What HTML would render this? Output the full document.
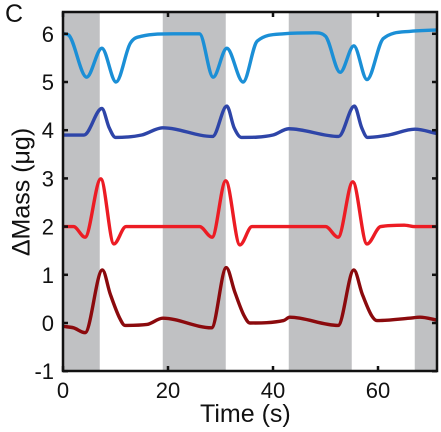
<!DOCTYPE html>
<html><head><meta charset="utf-8"><style>
body{margin:0;background:#fff;}
svg{display:block;font-family:"Liberation Sans",Arial,sans-serif;}
</style></head><body>
<svg id="chart" width="441" height="432">
<g id="bands"></g><g id="lines"></g><g id="axes"></g>
</svg>
<script>
const xTicks=[0,20,40,60];
const yTicks=[-1,0,1,2,3,4,5,6];
const bandStarts=[0,19,43,67];
const bandEnds=[7,31,55,71.3];
const cyanT=[0,1,4.5,7.4,10.1,12.8,15,21,26,28.6,31.2,34.3,37,42,48,50,52.8,55.4,57.9,61,66,71.3];
const cyanV=[6.0,5.98,5.1,5.7,5.0,5.8,5.95,6.0,6.0,5.1,5.7,5.0,5.85,6.0,6.02,5.95,5.2,5.75,5.05,5.9,6.05,6.08];
const blueT=[0,4,7.4,8.8,10,15,19,28.5,31.2,32.6,34,40,43,52.5,55.5,56.9,58,62,67,71.3];
const blueV=[3.9,3.9,4.45,4.05,3.85,3.9,4.05,3.87,4.5,4.05,3.85,3.9,4.03,3.87,4.5,4.05,3.85,3.9,4.02,3.93];
const redT=[0,2,4.2,7.2,9.7,12,26,28.4,31.0,33.7,36,50,52.4,55.2,57.9,60.5,65,67,71.3];
const redV=[2.0,2.0,1.78,2.99,1.64,2.0,2.0,1.78,2.95,1.62,2.0,2.0,1.78,2.93,1.64,2.0,2.03,2.0,2.0];
const darkT=[0,2,4.2,7.5,9,10.8,11.8,16,19,28.3,31.1,32.7,34.5,35.6,42,43.2,52.4,55.4,57,58.8,59.8,66,68,71.3];
const darkV=[-0.07,-0.1,-0.2,1.1,0.6,0.1,-0.05,-0.03,0.1,-0.1,1.15,0.65,0.15,0.0,0.05,0.12,-0.05,1.1,0.6,0.15,0.05,0.1,0.12,0.06];
const X0=63,X1=437,Y0=12,Y1=371;
function xs(t){return X0+t*5.25;}
function ys(v){return 323-v*48.2;}
const NS='http://www.w3.org/2000/svg';
function mk(tag,attrs,parent){const e=document.createElementNS(NS,tag);for(const k in attrs)e.setAttribute(k,attrs[k]);parent.appendChild(e);return e;}
const gB=document.getElementById('bands'),gL=document.getElementById('lines'),gA=document.getElementById('axes');
bandStarts.forEach((s,i)=>{
 const r=mk('rect',{x:xs(s),y:Y0,width:Math.min(xs(bandEnds[i]),X1)-xs(s),height:Y1-Y0,fill:'#c0c1c3'},gB);
 
 
});
function pathFor(T,V){
 const x=T.map(xs),y=V.map(ys),n=x.length;
 const d=[],m=new Array(n);
 for(let i=0;i<n-1;i++)d.push((y[i+1]-y[i])/(x[i+1]-x[i]));
 m[0]=d[0];m[n-1]=d[n-2];
 for(let i=1;i<n-1;i++){m[i]=(d[i-1]*d[i]<=0)?0:(d[i-1]+d[i])/2;}
 for(let i=0;i<n-1;i++){if(d[i]===0){m[i]=0;m[i+1]=0;continue;}const a=m[i]/d[i],b=m[i+1]/d[i],s=a*a+b*b;if(s>9){const t=3/Math.sqrt(s);m[i]=t*a*d[i];m[i+1]=t*b*d[i];}}
 let p='M'+x[0]+','+y[0];
 for(let i=0;i<n-1;i++){const h=(x[i+1]-x[i])/3;p+=' C'+(x[i]+h)+','+(y[i]+m[i]*h)+' '+(x[i+1]-h)+','+(y[i+1]-m[i+1]*h)+' '+x[i+1]+','+y[i+1];}
 return p;
}
const cy=mk('path',{d:pathFor(cyanT,cyanV),fill:'none',stroke:'#1b8fd6','stroke-width':3.4,'stroke-linejoin':'round'},gL);


const bl=mk('path',{d:pathFor(blueT,blueV),fill:'none',stroke:'#2e45a8','stroke-width':3.4,'stroke-linejoin':'round'},gL);


const rd=mk('path',{d:pathFor(redT,redV),fill:'none',stroke:'#ec1c24','stroke-width':3.4,'stroke-linejoin':'round'},gL);


const dk=mk('path',{d:pathFor(darkT,darkV),fill:'none',stroke:'#8b0a0d','stroke-width':3.4,'stroke-linejoin':'round'},gL);


const frame=mk('rect',{x:X0,y:Y0,width:X1-X0,height:Y1-Y0,fill:'none',stroke:'#111','stroke-width':2.5},gA);


xTicks.forEach(t=>{
 const x=xs(t);
 mk('line',{x1:x,x2:x,y1:Y1,y2:Y1-5,stroke:'#111','stroke-width':2.5},gA);
 mk('line',{x1:x,x2:x,y1:Y0,y2:Y0+5,stroke:'#111','stroke-width':2.5},gA);
 const tx=mk('text',{x:x,y:398,'text-anchor':'middle','font-size':22,fill:'#111'},gA);
 tx.textContent=t;
 
 
});
yTicks.forEach(v=>{
 const y=ys(v);
 mk('line',{x1:X0,x2:X0+5,y1:y,y2:y,stroke:'#111','stroke-width':2.5},gA);
 mk('line',{x1:X1,x2:X1-5,y1:y,y2:y,stroke:'#111','stroke-width':2.5},gA);
 const tx=mk('text',{x:54,y:y+8,'text-anchor':'end','font-size':22,fill:'#111'},gA);
 tx.textContent=v;
 
 
});
</script>
<div style="position:absolute;left:0;top:0;width:441px;height:432px;pointer-events:none;font-family:'Liberation Sans',Arial,sans-serif;color:#111;">
<div style="position:absolute;left:5px;top:0px;font-size:25px;">C</div>
<div style="position:absolute;left:200px;top:400px;font-size:25px;">Time (s)</div>
<div style="position:absolute;left:22px;top:192px;font-size:25px;white-space:nowrap;transform:translate(-50%,-50%) rotate(-90deg);">ΔMass (μg)</div>
</div>
</body></html>
